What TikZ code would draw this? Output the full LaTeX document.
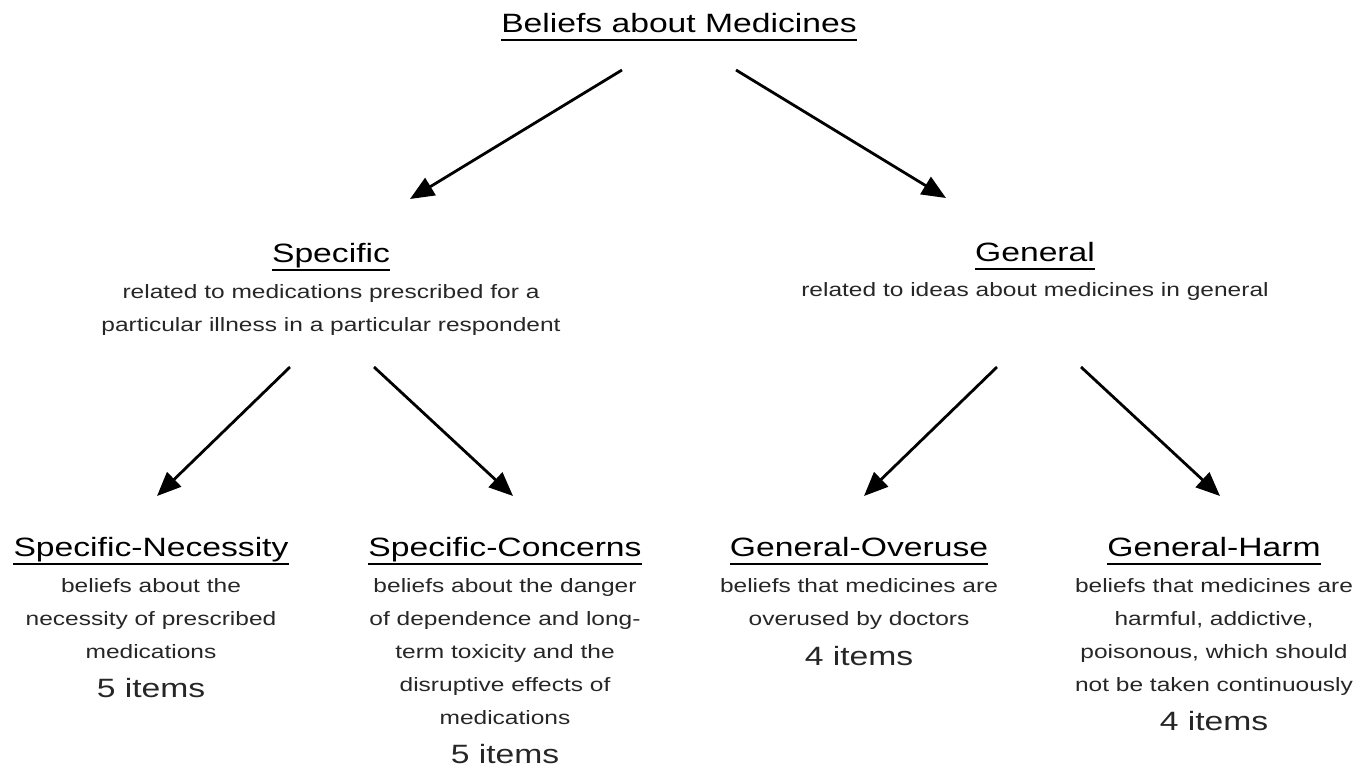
\documentclass[tikz,border=0pt]{standalone}
\usepackage{fontspec}
\setmainfont{Liberation Sans}[FakeStretch=1.27]
\usetikzlibrary{arrows.meta}
\definecolor{txt}{HTML}{262626}
\begin{document}
\begin{tikzpicture}[x=1pt,y=-1pt,
  hd/.style={inner sep=0pt, anchor=base, font=\fontsize{26.5}{30}\selectfont},
  desc/.style={inner sep=0pt, anchor=base, align=center, text=txt, font=\fontsize{19.3}{33}\selectfont},
  items/.style={inner sep=0pt, anchor=base, text=txt, font=\fontsize{26.5}{30}\selectfont},
  ul/.style={line width=2pt},
  arr/.style={line width=2.8pt, -{Triangle[length=24pt,width=20pt]}}]
\useasboundingbox (0,0) rectangle (1369,769);

% level 1
\node[hd] (root) at (679,32) {Beliefs about Medicines};
\draw[ul] ([yshift=-8pt]root.base west) -- ([yshift=-8pt]root.base east);

% level 2 (desc nodes anchored at the baseline of their last line)
\node[hd] (spec) at (331,262) {Specific};
\draw[ul] ([yshift=-8pt]spec.base west) -- ([yshift=-8pt]spec.base east);
\node[desc] (specd) at (331,331) {related to medications prescribed for a\\particular illness in a particular respondent};

\node[hd] (gen) at (1035,261) {General};
\draw[ul] ([yshift=-8pt]gen.base west) -- ([yshift=-8pt]gen.base east);
\node[desc] (gend) at (1035,296) {related to ideas about medicines in general};

% level 3
\node[hd] (sn) at (151,556) {Specific-Necessity};
\draw[ul] ([yshift=-8pt]sn.base west) -- ([yshift=-8pt]sn.base east);
\node[desc] (snd) at (151,658) {beliefs about the\\necessity of prescribed\\medications};
\node[items] (sni) at (151,697) {5 items};

\node[hd] (sc) at (505,556) {Specific-Concerns};
\draw[ul] ([yshift=-8pt]sc.base west) -- ([yshift=-8pt]sc.base east);
\node[desc] (scd) at (505,724) {beliefs about the danger\\of dependence and long-\\term toxicity and the\\disruptive effects of\\medications};
\node[items] (sci) at (505,763) {5 items};

\node[hd] (go) at (859,556) {General-Overuse};
\draw[ul] ([yshift=-8pt]go.base west) -- ([yshift=-8pt]go.base east);
\node[desc] (god) at (859,625) {beliefs that medicines are\\overused by doctors};
\node[items] (goi) at (859,665) {4 items};

\node[hd] (gh) at (1214,556) {General-Harm};
\draw[ul] ([yshift=-8pt]gh.base west) -- ([yshift=-8pt]gh.base east);
\node[desc] (ghd) at (1214,691) {beliefs that medicines are\\harmful, addictive,\\poisonous, which should\\not be taken continuously};
\node[items] (ghi) at (1214,730) {4 items};

% arrows
\coordinate (a1s) at (622,70);  \coordinate (a1e) at (410,199);
\coordinate (a2s) at (736,70);  \coordinate (a2e) at (946,198);
\coordinate (a3s) at (290,367); \coordinate (a3e) at (157,496);
\coordinate (a4s) at (374,367); \coordinate (a4e) at (513,496);
\coordinate (a5s) at (997,367); \coordinate (a5e) at (864,496);
\coordinate (a6s) at (1081,367);\coordinate (a6e) at (1220,496);
\draw[arr] (a1s) -- (a1e);
\draw[arr] (a2s) -- (a2e);
\draw[arr] (a3s) -- (a3e);
\draw[arr] (a4s) -- (a4e);
\draw[arr] (a5s) -- (a5e);
\draw[arr] (a6s) -- (a6e);
\end{tikzpicture}
\end{document}
